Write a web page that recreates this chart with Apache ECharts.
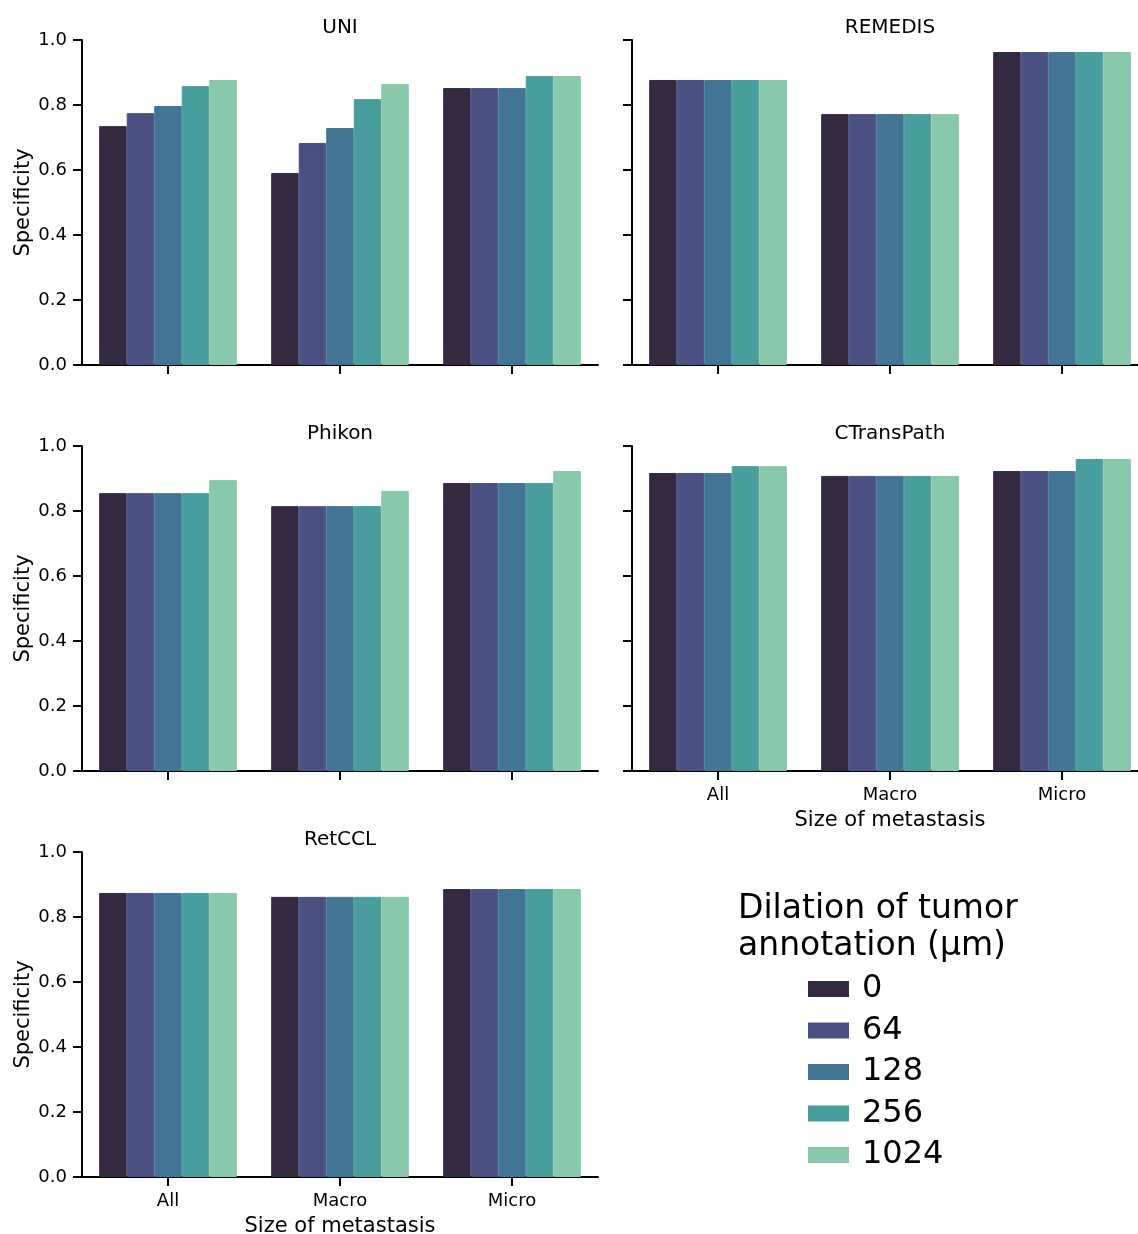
<!DOCTYPE html>
<html>
<head>
<meta charset="utf-8">
<script src="https://cdn.jsdelivr.net/npm/echarts@6/dist/echarts.min.js"></script>
<style>html,body{margin:0;padding:0;background:#fff}#c{width:1138px;height:1234px}</style>
</head>
<body>
<div id="c"></div>
<script>
const categories = ['All', 'Macro', 'Micro'];
const dilations = ['0', '64', '128', '256', '1024'];
const models = ['UNI', 'REMEDIS', 'Phikon', 'CTransPath', 'RetCCL'];
const yTicks = [0, 0.2, 0.4, 0.6, 0.8, 1.0];
// values[dilation][category]
const UNI = [
  [0.735, 0.591, 0.852],
  [0.775, 0.683, 0.852],
  [0.797, 0.729, 0.852],
  [0.858, 0.818, 0.889],
  [0.877, 0.865, 0.889]
];
const REMEDIS = [
  [0.877, 0.772, 0.963],
  [0.877, 0.772, 0.963],
  [0.877, 0.772, 0.963],
  [0.877, 0.772, 0.963],
  [0.877, 0.772, 0.963]
];
const Phikon = [
  [0.855, 0.815, 0.886],
  [0.855, 0.815, 0.886],
  [0.855, 0.815, 0.886],
  [0.855, 0.815, 0.886],
  [0.895, 0.862, 0.923]
];
const CTransPath = [
  [0.917, 0.908, 0.923],
  [0.917, 0.908, 0.923],
  [0.917, 0.908, 0.923],
  [0.938, 0.908, 0.960],
  [0.938, 0.908, 0.960]
];
const RetCCL = [
  [0.874, 0.862, 0.886],
  [0.874, 0.862, 0.886],
  [0.874, 0.862, 0.886],
  [0.874, 0.862, 0.886],
  [0.874, 0.862, 0.886]
];
const modelData = [UNI, REMEDIS, Phikon, CTransPath, RetCCL];
const colors = ['#352841', '#4a5082', '#427593', '#489d9d', '#87c9aa'];

const FONT = 'DejaVu Sans';
const panels = [
  {left: 82, top: 40, yLabels: true, xLabels: false},
  {left: 632, top: 40, yLabels: false, xLabels: false},
  {left: 82, top: 446, yLabels: true, xLabels: false},
  {left: 632, top: 446, yLabels: false, xLabels: true},
  {left: 82, top: 852, yLabels: true, xLabels: true}
];
const W = 516, H = 325;

const grid = [], xAxis = [], yAxis = [], series = [], title = [];
panels.forEach((p, i) => {
  grid.push({left: p.left, top: p.top, width: W, height: H, containLabel: false, outerBoundsMode: 'none'});
  title.push({
    text: models[i], left: p.left + W / 2, top: p.top - 22, textAlign: 'center', padding: 0,
    textStyle: {fontFamily: FONT, fontSize: 20, fontWeight: 'normal', color: '#000'}
  });
  xAxis.push({
    type: 'category', gridIndex: i, data: categories, boundaryGap: true,
    axisLine: {lineStyle: {color: '#000', width: 2}},
    axisTick: {show: true, alignWithLabel: true, length: 9, lineStyle: {color: '#000', width: 2}},
    axisLabel: {show: p.xLabels, color: '#000', fontFamily: FONT, fontSize: 18, margin: 15},
    name: p.xLabels ? 'Size of metastasis' : '', nameLocation: 'middle', nameGap: 39,
    nameTextStyle: {fontFamily: FONT, fontSize: 21, color: '#000'},
    splitLine: {show: false}
  });
  yAxis.push({
    type: 'value', gridIndex: i, min: 0, max: 1, interval: 0.2,
    axisLine: {show: true, lineStyle: {color: '#000', width: 2}},
    axisTick: {show: true, length: 9, lineStyle: {color: '#000', width: 2}},
    axisLabel: {show: p.yLabels, color: '#000', fontFamily: FONT, fontSize: 18, margin: 15,
      formatter: v => v.toFixed(1)},
    name: p.yLabels ? 'Specificity' : '', nameLocation: 'middle', nameGap: 48,
    nameTextStyle: {fontFamily: FONT, fontSize: 21, color: '#000'},
    splitLine: {show: false}
  });
  dilations.forEach((d, k) => {
    series.push({
      type: 'bar', name: d, xAxisIndex: i, yAxisIndex: i,
      data: modelData[i][k], barGap: 0, barCategoryGap: '20%',
      itemStyle: {color: colors[k], borderColor: colors[k], borderWidth: 1}
    });
  });
});

const chart = echarts.init(document.getElementById('c'), null, {renderer: 'canvas'});
chart.setOption({
  animation: false,
  backgroundColor: '#fff',
  title, grid, xAxis, yAxis, series,
  legend: {
    data: dilations, orient: 'vertical', left: 803, top: 968,
    icon: 'rect', itemWidth: 39, itemHeight: 14, itemGap: 9.5,
    selectedMode: false,
    textStyle: {fontFamily: FONT, fontSize: 32, color: '#000', lineHeight: 32, padding: [0, 0, 0, 9]}
  },
  graphic: [{
    type: 'text', left: 738, top: 891,
    style: {text: 'Dilation of tumor\nannotation (µm)', font: '33px "DejaVu Sans"', fill: '#000', lineHeight: 37}
  }]
});
</script>
</body>
</html>
